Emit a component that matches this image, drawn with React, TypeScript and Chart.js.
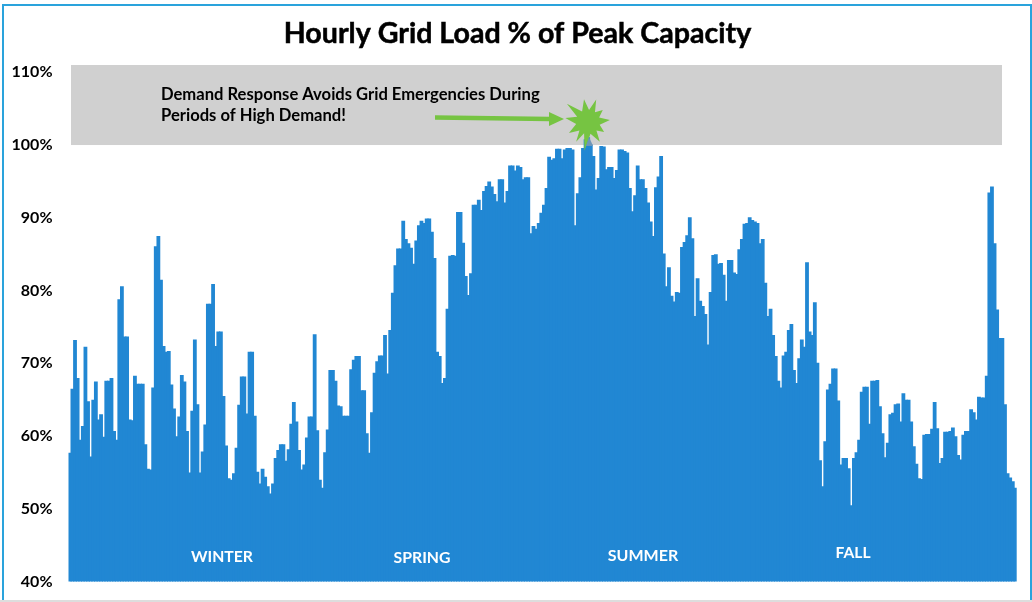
import React, { useEffect, useRef } from "react";
import { Chart, registerables } from "chart.js";

Chart.register(...registerables);

const TITLE = "Hourly Grid Load % of Peak Capacity";
const NOTE_LINES = ["Demand Response Avoids Grid Emergencies During", "Periods of High Demand!"];
const SEASONS = ["WINTER", "SPRING", "SUMMER", "FALL"];

const load1 = [57.6,66.4,73.1,67.9,59.4,61.3,72.2,64.7,57.1,64.9,67.4,62.2,62.9,59.8,67.5,67.5,67.9,60.6,59.4,78.7,80.5,73.6,73.6,62.2,62.1,68.2,67.1,67.1,67.1,58.8,55.4,55.3,66.6,86,87.4,81.4,72.3,71.5,71.6,67,63.7,59.9,62.6,68.3,67.4,60.6,54.9,63.4,73.2,64.3,54.9,57.8];
const load2 = [61.5,78.1,78.1,80.8,72.3,74.3,74.3,65.4,58.6,54.1,53.9,54.8,58.3,64.2,68.1,68.1,63,71.5,71.5,62.7,55,53.4,55.4,54.3,53,52,53.4,56.9,58,58.8,58.8,56.5,58.1,61.6,64.6,61.9,58,55.3,56,59.7,62.6,62.6,73.9,60.7,53.9,52.8,57.7,60.8,69,69,67.5,64.1];
const load3 = [64,62.7,62.7,62.7,69.1,70.4,70.9,70.9,66.2,66.2,60.3,57.6,63.2,68.6,70.2,71,71,73.8,68.5,74.5,79.6,83.4,85.7,85.7,89.5,87,86.4,85.8,83.6,86.8,88.9,89.5,89.2,89.8,89.8,88,84.4,71.5,70.9,67.2,67.9,77.4,84.7,84.8,84.7,90.7,90.7,86.5,81.9,79.3,82.3,91.7];
const load4 = [91.7,92.4,91,93.6,94.3,94.9,94.2,93.2,92.2,95.2,95.2,92,93.6,97.1,97.1,96.4,97.1,96.9,95.2,95.5,95.5,87.8,88.8,88.4,89.2,90.6,91.7,94,98.3,97.9,98.1,99.4,99.4,98.1,99.3,99.5,99.5,99.3,88.9,93.3,95.5,99.5,100.7,101,100,98.4,93.8,95.4,99.8,99.7,96.6,96.9];
const load5 = [96.9,95.4,96.5,99.3,99.3,99.1,98.9,94,90.8,93,97.1,95.2,95.2,94,92,89.4,87.4,94.1,95.6,98.4,85,80.5,83.1,79.2,78.4,79.7,79.6,85.9,86.6,87.5,90,87.1,76.4,81.6,78.5,77.8,76.7,72.5,79.7,84.8,84.9,83.6,83.7,82.1,78.5,84.1,84.1,82.4,82.2,85.6,87,89.1];
const load6 = [89.2,90,89.6,89.4,89.2,86.4,87,81,76.4,77.4,73.8,70.9,67.5,66.6,71,71.5,74.5,75.3,69,67.2,70.6,73.2,72.2,83.8,74.3,73.8,78.3,70,56.6,53,59.2,66.3,67.1,69.2,69.2,64.8,56,56.9,56.9,55.5,50.4,56.9,57.7,59.4,66,66.7,66.7,61.6,67.5,67.5,67.6,64];
const load7 = [60.3,57,59,62.9,63.1,64.3,64.4,61.9,65.8,64.9,64.9,61.9,58.5,56.1,54.1,54,60.1,60.2,60.2,60.9,64.6,61,56.2,56.9,60.5,60.5,60.6,61.1,59.9,57.3,56.7,60.1,60.6,60.6,63.6,63.2,62.2,65.3,65.2,65.2,68.2,93.4,94.2,86.4,77.3,73.4,73.4,64.3,54.8,54.2,53.7,52.8];

const loadValues = [...load1, ...load2, ...load3, ...load4, ...load5, ...load6, ...load7];
const dayLabels = loadValues.map((_, i) => String(i + 1));

const BAR = "#2187D3";
const GREEN = "#76C442";
const FONT = "Lato, 'Open Sans', sans-serif";

const starTips = [[-10,23],[20,24],[51,19],[85,22],[122,19],[149,23],[187,29],[211,23],[240,22],[280,23],[311,28]];

const annotations = {
  id: "annotations",
  beforeDatasetsDraw(chart: any) {
    const { ctx, scales } = chart;
    const top = scales.y.getPixelForValue(111);
    const bottom = scales.y.getPixelForValue(100);
    ctx.save();
    ctx.fillStyle = "#D0D0D0";
    ctx.fillRect(71, top, 1002 - 71, bottom - top);
    ctx.restore();
  },
  afterDatasetsDraw(chart: any) {
    const { ctx } = chart;
    ctx.save();
    // title
    ctx.fillStyle = "#000";
    ctx.font = `bold 28.6px ${FONT}`;
    ctx.textAlign = "center";
    ctx.textBaseline = "middle";
    ctx.fillText(TITLE, 517.5, 34);
    ctx.strokeStyle = "#000";
    ctx.lineWidth = 0.5;
    ctx.strokeText(TITLE, 517.5, 34);
    // note
    ctx.font = `bold 16.6px ${FONT}`;
    ctx.textAlign = "left";
    ctx.fillText(NOTE_LINES[0], 161, 95, 380);
    ctx.fillText(NOTE_LINES[1], 161, 116, 186);
    // arrow
    ctx.strokeStyle = GREEN;
    ctx.lineWidth = 4.5;
    ctx.beginPath();
    ctx.moveTo(435, 117.5);
    ctx.lineTo(550, 119);
    ctx.stroke();
    ctx.fillStyle = GREEN;
    ctx.beginPath();
    ctx.moveTo(564, 119);
    ctx.lineTo(549, 112);
    ctx.lineTo(549, 126);
    ctx.closePath();
    ctx.fill();
    // burst
    const cx = 588, cy = 122, inner = 12;
    ctx.beginPath();
    starTips.forEach(([a, r], i) => {
      const next = starTips[(i + 1) % starTips.length][0];
      const mid = ((i === starTips.length - 1 ? next + 360 : next) + a) / 2;
      const ra = ((a - 90) * Math.PI) / 180;
      const rm = ((mid - 90) * Math.PI) / 180;
      const px = cx + r * Math.cos(ra), py = cy + r * Math.sin(ra);
      if (i === 0) ctx.moveTo(px, py); else ctx.lineTo(px, py);
      ctx.lineTo(cx + inner * Math.cos(rm), cy + inner * Math.sin(rm));
    });
    ctx.closePath();
    ctx.fill();
    ctx.fillStyle = "#6F96B8";
    ctx.beginPath();
    ctx.moveTo(589, 137);
    ctx.lineTo(593, 146);
    ctx.lineTo(586, 146);
    ctx.closePath();
    ctx.fill();
    // seasons
    ctx.fillStyle = "#fff";
    ctx.font = `bold 16px ${FONT}`;
    ctx.textAlign = "center";
    const seasonPos = [[222, 557, 62], [422, 558, 57], [643, 556, 71], [853, 553, 35]];
    SEASONS.forEach((s, i) => ctx.fillText(s, seasonPos[i][0], seasonPos[i][1], seasonPos[i][2]));
    ctx.restore();
  },
  afterDraw(chart: any) {
    const { ctx, width, height } = chart;
    ctx.save();
    ctx.fillStyle = "#DDDDDD";
    ctx.fillRect(0, height - 2, width, 2);
    ctx.fillStyle = "#2AA3DC";
    ctx.fillRect(2, 4, width - 2, 2);
    ctx.fillRect(2, 4, 2, height - 6);
    ctx.fillRect(width - 2, 4, 2, height - 6);
    ctx.restore();
  },
};

export default function App() {
  const ref = useRef<HTMLCanvasElement>(null);
  useEffect(() => {
    if (!ref.current) return;
    const chart = new Chart(ref.current, {
      type: "bar",
      data: {
        labels: dayLabels,
        datasets: [{ data: loadValues, backgroundColor: BAR, borderWidth: 0, barPercentage: 1, categoryPercentage: 1, inflateAmount: 0.6 }],
      },
      options: {
        responsive: false,
        animation: false,
        layout: { padding: { left: 0, right: 15.3, top: 65, bottom: 20.5 } },
        plugins: {
          legend: { display: false },
          tooltip: { enabled: false },
          title: { display: false },
        },
        scales: {
          x: { display: false, grid: { display: false } },
          y: {
            min: 40,
            max: 111,
            afterFit: (s: any) => { s.width = 68.5; s.paddingTop = 0; s.paddingBottom = 0; },
            grid: { display: false, drawTicks: false },
            border: { display: false },
            ticks: {
              stepSize: 10,
              includeBounds: false,
              padding: 16,
              color: "#000",
              font: { family: FONT, size: 16, weight: "bold" },
              callback: (v: any) => `${v}%`,
            },
          },
        },
      },
      plugins: [annotations],
    } as any);
    return () => chart.destroy();
  }, []);
  return (
    <div style={{ position: "absolute", left: 0, top: 0, width: 1032, height: 602, background: "#fff", overflow: "hidden" }}>
      <canvas ref={ref} width={1032} height={602} style={{ display: "block", width: 1032, height: 602 }} />
    </div>
  );
}
